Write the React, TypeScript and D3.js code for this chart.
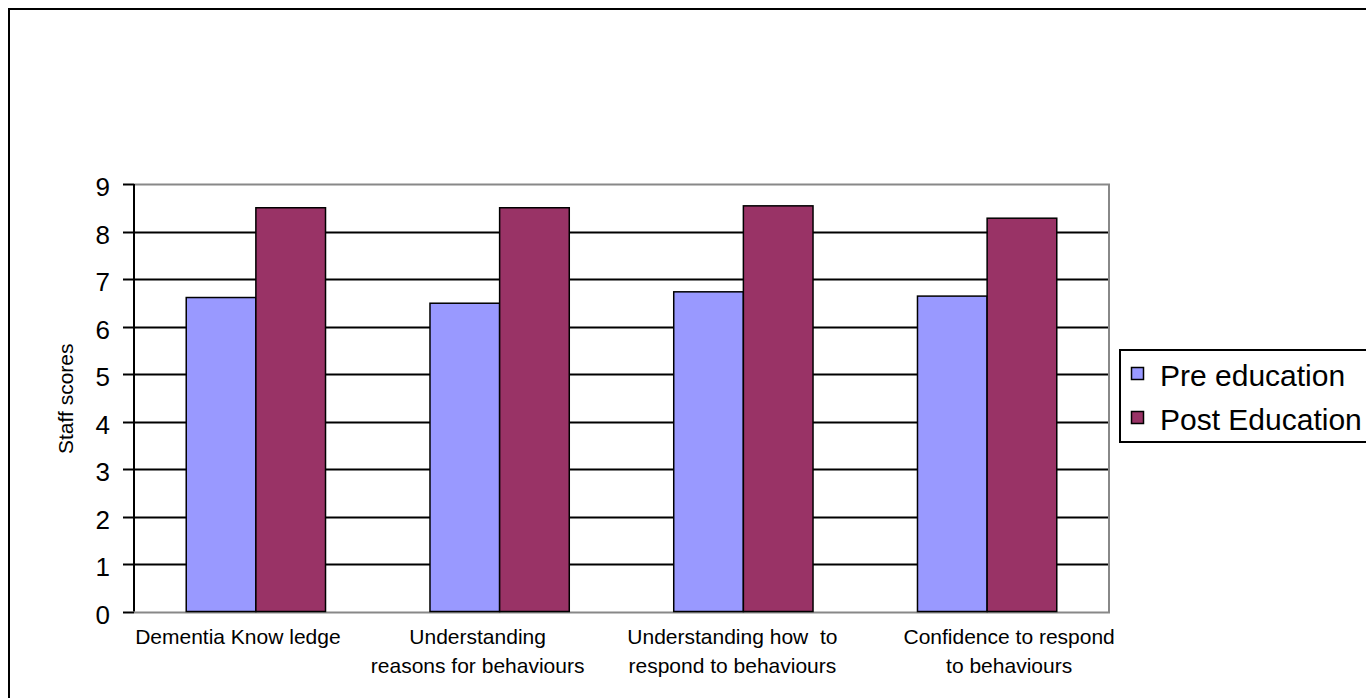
import React, { useEffect, useRef } from "react";
import * as d3 from "d3";

const categories = [
  ["Dementia Know ledge"],
  ["Understanding", "reasons for behaviours"],
  ["Understanding how  to", "respond to behaviours"],
  ["Confidence to respond", "to behaviours"],
];
const seriesNames = ["Pre education", "Post Education"];
const preValues = [6.61, 6.49, 6.73, 6.64];
const postValues = [8.5, 8.5, 8.54, 8.28];
const colors = ["#9999ff", "#993366"];
const yTicks = [0, 1, 2, 3, 4, 5, 6, 7, 8, 9];

const W = 1366;
const H = 698;
const FONT = "'Liberation Sans', Arial, sans-serif";

export default function App() {
  const ref = useRef<SVGSVGElement>(null);

  useEffect(() => {
    const svg = d3.select(ref.current);
    svg.selectAll("*").remove();

    const left = 134, right = 1109, top = 184, bottom = 611.5;

    // chart area border
    svg.append("rect")
      .attr("x", 9).attr("y", 9)
      .attr("width", 1420).attr("height", 720)
      .attr("fill", "white").attr("stroke", "black").attr("stroke-width", 2);

    const x = d3.scaleBand<number>()
      .domain(d3.range(categories.length))
      .range([left, right])
      .paddingInner(0)
      .paddingOuter(0);
    const y = d3.scaleLinear().domain([0, 9]).range([bottom, top]);

    const g = svg.append("g");

    // grid lines
    g.selectAll("line.grid")
      .data(yTicks.filter(t => t > 0 && t < 9))
      .enter().append("line")
      .attr("x1", left).attr("x2", right)
      .attr("y1", d => Math.round(y(d)) + 0.5).attr("y2", d => Math.round(y(d)) + 0.5)
      .attr("stroke", "black").attr("stroke-width", 2);

    // plot border (gray) top, right, bottom
    g.append("path")
      .attr("d", `M${left},${Math.round(y(9)) + 0.5}H${right}V${Math.round(y(0)) + 0.5}H${left}`)
      .attr("fill", "none").attr("stroke", "#888").attr("stroke-width", 2);

    // bars
    const bw = x.bandwidth() / 3.5;
    const series = [preValues, postValues];
    series.forEach((vals, si) => {
      g.selectAll(`rect.s${si}`)
        .data(vals)
        .enter().append("rect")
        .attr("x", (d, i) => (x(i) as number) + x.bandwidth() / 2 - bw + si * bw)
        .attr("y", d => y(d))
        .attr("width", bw)
        .attr("height", d => y(0) - y(d))
        .attr("fill", colors[si])
        .attr("stroke", "black").attr("stroke-width", 1.5);
    });

    // y axis
    g.append("line")
      .attr("x1", left).attr("x2", left)
      .attr("y1", top).attr("y2", bottom)
      .attr("stroke", "black").attr("stroke-width", 2);
    g.selectAll("line.tick")
      .data(yTicks)
      .enter().append("line")
      .attr("x1", left - 11).attr("x2", left)
      .attr("y1", d => Math.round(y(d)) + 0.5).attr("y2", d => Math.round(y(d)) + 0.5)
      .attr("stroke", "black").attr("stroke-width", 2);
    g.selectAll("text.ytick")
      .data(yTicks)
      .enter().append("text")
      .attr("x", 110).attr("y", d => y(d) + 12)
      .attr("text-anchor", "end")
      .attr("font-family", FONT).attr("font-size", 26)
      .text(d => d);

    g.append("text")
      .attr("transform", `translate(73,${(top + bottom) / 2 + 1}) rotate(-90)`)
      .attr("text-anchor", "middle")
      .attr("font-family", FONT).attr("font-size", 21)
      .text("Staff scores");

    // x labels (Excel places the wrapped label boxes slightly off-centre)
    const labelShift = [-18, -22, -11, 22];
    categories.forEach((lines, i) => {
      const cx = (x(i) as number) + x.bandwidth() / 2 + labelShift[i];
      lines.forEach((ln, li) => {
        g.append("text")
          .attr("x", cx).attr("y", 644 + li * 29)
          .attr("text-anchor", "middle")
          .attr("font-family", FONT).attr("font-size", 21)
          .attr("xml:space", "preserve")
          .style("white-space", "pre")
          .text(ln);
      });
    });

    // legend
    const lg = svg.append("g");
    lg.append("rect")
      .attr("x", 1120).attr("y", 350)
      .attr("width", 300).attr("height", 92)
      .attr("fill", "white").attr("stroke", "black").attr("stroke-width", 2);
    seriesNames.forEach((name, i) => {
      lg.append("rect")
        .attr("x", 1131.5).attr("y", 367.5 + i * 44)
        .attr("width", 12).attr("height", 12)
        .attr("fill", colors[i]).attr("stroke", "black").attr("stroke-width", 1.5);
      lg.append("text")
        .attr("x", 1160).attr("y", 386 + i * 44)
        .attr("font-family", FONT).attr("font-size", 30)
        .text(name);
    });
  }, []);

  return (
    <svg
      ref={ref}
      width={W}
      height={H}
      style={{ position: "absolute", left: 0, top: 0, display: "block", background: "white" }}
    />
  );
}
